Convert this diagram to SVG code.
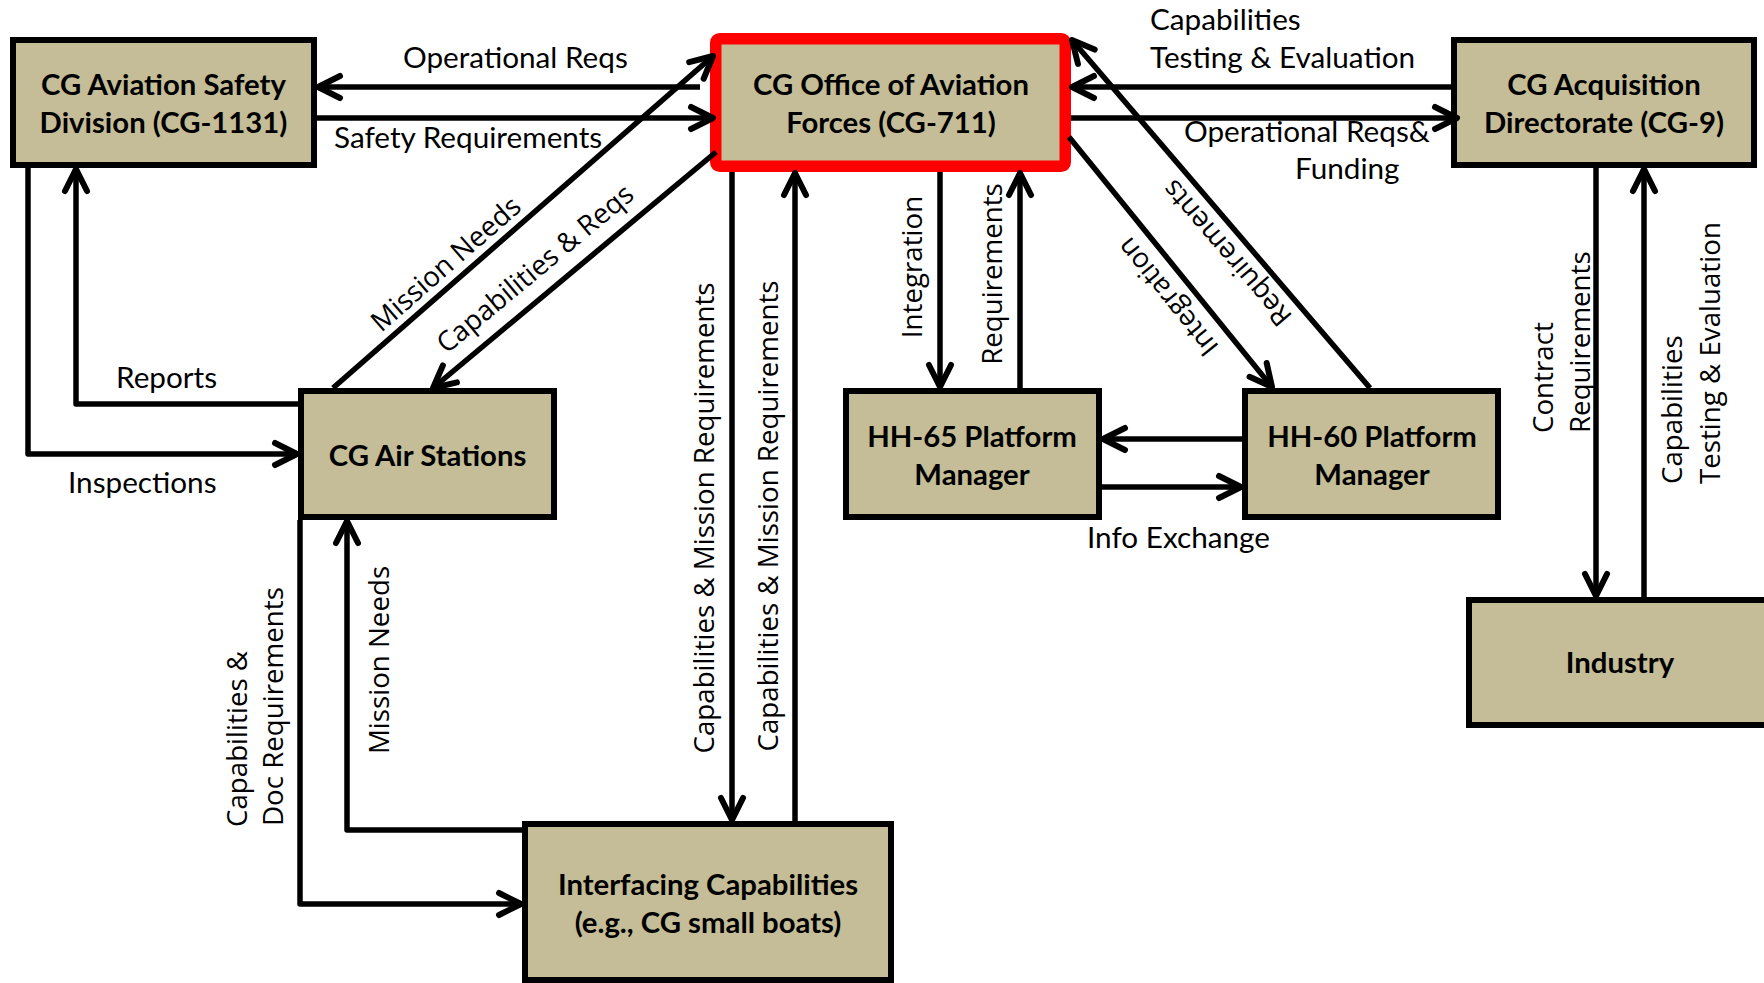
<svg xmlns="http://www.w3.org/2000/svg" width="1764" height="983" viewBox="0 0 1764 983">
<style>
.box{fill:#C4BD97;stroke:#000;stroke-width:6}
.hl{fill:#C4BD97;stroke:#FF0000;stroke-width:11.5}
.bt{font-family:Lato,"Liberation Sans",sans-serif;font-weight:700;font-size:29.3px;text-anchor:middle;fill:#000}
.lb{font-family:Lato,"Liberation Sans",sans-serif;font-size:29.7px;fill:#000}
.rl{font-family:"Open Sans","Liberation Sans",sans-serif;font-size:27.7px;fill:#000}
.c{fill:none;stroke:#000;stroke-width:5.5;stroke-linejoin:round;marker-end:url(#ah)}
</style>
<defs>
<marker id="ah" markerUnits="userSpaceOnUse" markerWidth="40" markerHeight="40" viewBox="-30 -20 40 40" refX="0" refY="0" orient="auto" overflow="visible">
<path d="M-22,-11 L0,0 L-22,11" fill="none" stroke="#000" stroke-width="6" stroke-linecap="round" stroke-linejoin="round"/>
</marker>
</defs>
<rect x="0" y="0" width="1764" height="983" fill="#fff"/>

<g id="node-safety"><rect class="box" x="13" y="40" width="301" height="125"/><text class="bt" x="163.5" y="95">CG Aviation Safety</text><text class="bt" x="163.5" y="133">Division (CG-1131)</text></g>
<g id="node-cg711"><rect class="hl" x="715.75" y="38.75" width="349.5" height="127.5" rx="4"/><text class="bt" x="891" y="95">CG Office of Aviation</text><text class="bt" x="891" y="133">Forces (CG-711)</text></g>
<g id="node-cg9"><rect class="box" x="1454" y="40" width="300" height="125"/><text class="bt" x="1604" y="95">CG Acquisition</text><text class="bt" x="1604" y="133">Directorate (CG-9)</text></g>
<g id="node-airstations"><rect class="box" x="301" y="391" width="253" height="126"/><text class="bt" x="427.5" y="466">CG Air Stations</text></g>
<g id="node-hh65"><rect class="box" x="846" y="391" width="253" height="126"/><text class="bt" x="972" y="447">HH-65 Platform</text><text class="bt" x="972" y="485">Manager</text></g>
<g id="node-hh60"><rect class="box" x="1245" y="391" width="253" height="126"/><text class="bt" x="1372" y="447">HH-60 Platform</text><text class="bt" x="1372" y="485">Manager</text></g>
<g id="node-industry"><rect class="box" x="1469" y="600" width="302" height="125"/><text class="bt" x="1620" y="673">Industry</text></g>
<g id="node-interfacing"><rect class="box" x="525" y="824" width="366" height="156"/><text class="bt" x="708" y="895">Interfacing Capabilities</text><text class="bt" x="708" y="933">(e.g., CG small boats)</text></g>

<g id="connectors">
<path class="c" d="M700,87 L318,87"/>
<path class="c" d="M317,118 L713,118"/>
<path class="c" d="M333,388 L713,56"/>
<path class="c" d="M716,152 L433,388"/>
<path class="c" d="M298,404 L76,404 L76,169"/>
<path class="c" d="M28,168 L28,454 L297,454"/>
<path class="c" d="M300,520 L300,904 L521,904"/>
<path class="c" d="M522,830 L347,830 L347,521"/>
<path class="c" d="M732,172 L732,820"/>
<path class="c" d="M795,821 L795,173"/>
<path class="c" d="M940,172 L940,387"/>
<path class="c" d="M1020,388 L1020,173"/>
<path class="c" d="M1069,137 L1272,387"/>
<path class="c" d="M1370,388 L1072,40"/>
<path class="c" d="M1451,87 L1072,87"/>
<path class="c" d="M1071,118 L1457,118"/>
<path class="c" d="M1242,439 L1103,439"/>
<path class="c" d="M1102,487 L1241,487"/>
<path class="c" d="M1596,168 L1596,596"/>
<path class="c" d="M1644,597 L1644,169"/>
</g>

<g id="connector-labels">
<text class="lb" x="403" y="68">Operational Reqs</text>
<text class="lb" x="334" y="148">Safety Requirements</text>
<text class="lb" x="1150" y="30">Capabilities</text>
<text class="lb" x="1150" y="68">Testing &amp; Evaluation</text>
<text class="lb" x="1184" y="142">Operational Reqs&amp;</text>
<text class="lb" x="1295" y="179">Funding</text>
<text class="lb" x="116" y="388">Reports</text>
<text class="lb" x="68" y="493">Inspections</text>
<text class="lb" x="1087" y="548">Info Exchange</text>
<text class="rl" transform="translate(714,518) rotate(-90)" text-anchor="middle">Capabilities &amp; Mission Requirements</text>
<text class="rl" transform="translate(778,516) rotate(-90)" text-anchor="middle">Capabilities &amp; Mission Requirements</text>
<text class="rl" transform="translate(389,660) rotate(-90)" text-anchor="middle">Mission Needs</text>
<text class="rl" transform="translate(247,827) rotate(-90)">Capabilities &amp;</text>
<text class="rl" transform="translate(283,826) rotate(-90)">Doc Requirements</text>
<text class="rl" transform="translate(922,267) rotate(-90)" text-anchor="middle">Integration</text>
<text class="rl" transform="translate(1002,274) rotate(-90)" text-anchor="middle">Requirements</text>
<text class="rl" transform="translate(1553,433) rotate(-90)">Contract</text>
<text class="rl" transform="translate(1590,433) rotate(-90)">Requirements</text>
<text class="rl" transform="translate(1682,484) rotate(-90)">Capabilities</text>
<text class="rl" transform="translate(1720,484) rotate(-90)">Testing &amp; Evaluation</text>
<text class="rl" transform="translate(452,271) rotate(-41.15)" text-anchor="middle">Mission Needs</text>
<text class="rl" transform="translate(541,276) rotate(-39.7)" text-anchor="middle">Capabilities &amp; Reqs</text>
<text class="rl" transform="translate(1175,291) rotate(231.1)" text-anchor="middle">Integration</text>
<text class="rl" transform="translate(1234,247) rotate(229.35)" text-anchor="middle">Requirements</text>
</g>
</svg>
